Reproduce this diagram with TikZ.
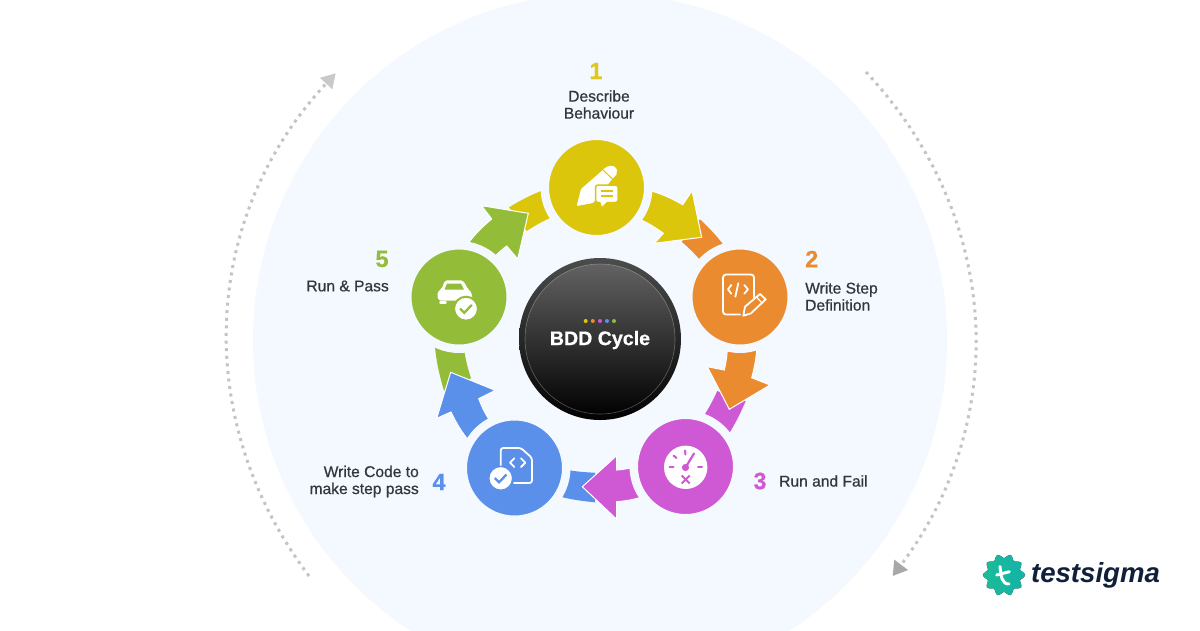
\documentclass[tikz,border=0pt]{standalone}
\usepackage{fontspec}
\setmainfont{Liberation Sans}
\newfontfamily\labelfont[FakeBold=0.6]{Liberation Sans}
\newfontfamily\numfont[FakeBold=0.5]{Liberation Sans Bold}
\usetikzlibrary{arrows.meta}

\definecolor{panelbg}{HTML}{F4F8FF}
\definecolor{stepyellow}{HTML}{DCC60C}
\definecolor{steporange}{HTML}{EA8B30}
\definecolor{steppurple}{HTML}{CF58D4}
\definecolor{stepblue}{HTML}{5A90EA}
\definecolor{stepgreen}{HTML}{93BC38}
\definecolor{labeltext}{HTML}{33363D}
\definecolor{logonavy}{HTML}{10203A}
\definecolor{logoleft}{HTML}{1CBB98}
\definecolor{logoright}{HTML}{12B3A8}
\definecolor{hubrim}{HTML}{4C4C4C}
\definecolor{hubtop}{HTML}{626262}
\definecolor{hubend}{HTML}{020202}

\tikzset{
  stepcircle/.style={circle, draw=panelbg, line width=8.5pt, minimum size=103.5pt, inner sep=0pt, outer sep=0pt},
  stephead/.style={draw=white, line width=1pt, line join=miter},
  steplabel/.style={inner sep=0pt, text=labeltext, font=\labelfont\fontsize{15.6}{17}\selectfont},
  stepnum/.style={inner sep=0pt, font=\numfont\fontsize{23.5}{23.5}\selectfont},
  iconline/.style={draw=white, line width=1.8pt, line cap=round, line join=round},
  cyclearc/.style={line width=3pt, dash pattern=on 3pt off 4.6pt}
}

\begin{document}
\begin{tikzpicture}[x=1pt, y=-1pt]
    \useasboundingbox (0,0) rectangle (1200,630);
    \clip (0,0) rectangle (1200,630);
    \fill[white] (0,0) rectangle (1200,630);
    \fill[panelbg] (600,340) circle (347pt);

    % outer arcs
    \coordinate (rightstart) at (866,72);
    \coordinate (righttip) at (892.7,576);
    \coordinate (leftstart) at (309,576);
    \coordinate (lefttip) at (335.7,73.3);
    \draw[cyclearc, color=black!23, -{Triangle[length=14pt, width=16.5pt, color=black!34]}] (rightstart) to[bend left=40] (righttip);
    \draw[cyclearc, color=black!23, -{Triangle[length=14pt, width=16pt, color=black!21]}] (leftstart) to[bend left=40] (lefttip);

    % collars
    \fill[stepyellow] (509,207.3) to[bend left=6] (552,187) -- (560,214) to[bend right=6] (526.7,231) -- cycle;
    \fill[steporange] (700,219.3) to[bend left=6] (733,258) -- (708,270) to[bend right=6] (681.7,241.7) -- cycle;
    \fill[steppurple] (745.7,401) to[bend left=5] (723,443) -- (697,426) to[bend right=5] (717.3,391) -- cycle;
    \fill[stepblue] (595,502.3) to[bend left=5] (550,494) -- (558,468) to[bend right=5] (595,472.7) -- cycle;
    \fill[stepgreen] (444,390.7) to[bend left=6] (434,336) -- (463,340) to[bend right=6] (471,378.3) -- cycle;

    % arrows
    \filldraw[stepyellow, stephead] (640.5,188) to[bend left=8] (682.7,204.7) -- (692,190.7) -- (701.7,237.3) -- (654.3,243.3) -- (663.3,233.3) to[bend right=8] (631,216) -- cycle;
    \filldraw[steporange, stephead] (757,335) to[bend left=8] (751.7,377.7) -- (770,385) -- (729.3,409.3) -- (707.3,366.7) -- (724.3,370) to[bend right=8] (727,338) -- cycle;
    \filldraw[steppurple, stephead] (650,494) to[bend left=8] (616.7,501.7) -- (616.7,519.3) -- (582.3,486.7) -- (616.7,455.7) -- (616.7,470) to[bend right=8] (640,465) -- cycle;
    \filldraw[stepblue, stephead] (475.5,448.5) to[bend left=8] (451,412) -- (436.7,418.3) -- (450.7,372.3) -- (495.3,390.3) -- (478.7,398.7) to[bend right=8] (495,427.7) -- cycle;
    \filldraw[stepgreen, stephead] (462,252) to[bend left=8] (491.7,219) -- (481.7,205.7) -- (528.3,213.3) -- (517.7,259) -- (506.7,246) to[bend right=8] (488,265) -- cycle;

    % step circles
    \node[stepcircle, fill=stepyellow] (describe) at (596.5,187.5) {};
    \node[stepcircle, fill=steporange] (stepdef) at (740,297) {};
    \node[stepcircle, fill=steppurple] (runfail) at (685.5,466.5) {};
    \node[stepcircle, fill=stepblue] (writecode) at (514.5,468) {};
    \node[stepcircle, fill=stepgreen] (runpass) at (459,297) {};

    % centre disc
    \node[circle, minimum size=162pt, inner sep=0pt, top color=hubrim, bottom color=hubend] (bddhub) at (600,339) {};
    \node[circle, minimum size=150pt, inner sep=0pt, top color=hubtop, bottom color=hubend, draw=white, draw opacity=0.3, line width=0.6pt] (bddinner) at (600,339) {};
    \fill[stepyellow] (585.7,321) circle (2pt);
    \fill[steporange] (592.8,321) circle (2pt);
    \fill[steppurple] (600,321) circle (2pt);
    \fill[stepblue] (607,321) circle (2pt);
    \fill[stepgreen] (614,321) circle (2pt);
    \node[inner sep=0pt, text=white, font=\numfont\fontsize{19.6}{20}\selectfont] (bddtitle) at (600,340) {BDD Cycle};

    % icon 1
    \fill[white, rounded corners=1pt] (576.7,206) -- (581,189) -- (604,169) .. controls (608,165) and (614,165) .. (616.5,169) .. controls (618,173) and (616,176) .. (613,178) -- (593,203) -- cycle;
    \draw[stepyellow, line width=1pt] (603,170) -- (612.5,179);
    \filldraw[white, draw=stepyellow, line width=1.5pt, rounded corners=2.5pt] (595.5,185) rectangle (618,202.5);
    \fill[white] (600,201) -- (602,206.5) -- (607.5,201) -- cycle;
    \draw[stepyellow, line width=1.5pt] (601,191) -- (612.5,191);
    \draw[stepyellow, line width=1.5pt] (601,196) -- (612.5,196);

    % icon 2
    \draw[iconline, rounded corners=3pt] (740,314.5) -- (723,314.5) -- (723,274.5) -- (754,274.5) -- (754,298);
    \draw[iconline] (731.3,285) -- (728,289.3) -- (731.3,293.7);
    \draw[iconline] (738.3,283.3) -- (735.3,296.7);
    \draw[iconline] (744.3,285) -- (748,289.3) -- (744.3,293.7);
    \draw[iconline] (743.3,315.7) -- (745,306.7) -- (760,294) -- (765.7,299.3) -- (751,313.3) -- cycle;
    \draw[iconline, line width=1.2pt] (756.7,297.3) -- (762.3,303.3);

    % icon 3
    \fill[white] (685.7,467.3) circle (21.7pt);
    \draw[steppurple, line width=2.2pt, line cap=round] (685.5,467.5) -- (694,453.5);
    \fill[steppurple] (685.5,467.5) circle (3.6pt);
    \foreach \ax/\ay/\bx/\by in {669.5/467/673.5/467, 673.5/455.5/676.5/458, 685/450.5/685.5/454.5, 698/467/702/467}
        \draw[steppurple, line width=2pt, line cap=round] (\ax,\ay) -- (\bx,\by);
    \draw[steppurple, line width=2pt] (681.7,475.5) -- (689.7,483.5);
    \draw[steppurple, line width=2pt] (689.7,475.5) -- (681.7,483.5);

    % icon 4
    \draw[iconline, rounded corners=2.5pt] (500.7,467) -- (500.7,448) -- (521,448) -- (532,458) -- (532,483) -- (514,483);
    \draw[iconline] (514.3,458.3) -- (510,462.7) -- (514.3,467);
    \draw[iconline] (521,458.3) -- (525.3,462.7) -- (521,467);
    \filldraw[white, draw=stepblue, line width=1.5pt] (500.7,478.3) circle (12pt);
    \draw[stepblue, line width=2.3pt] (494.8,478) -- (499,482.3) -- (506.5,474.5);

    % icon 5
    \fill[white, rounded corners=2pt] (438,300.5) -- (437.3,292) -- (441.5,289) -- (445,280.3) -- (463,280.3) -- (468,289) -- (472,293) -- (472,300.5) -- cycle;
    \fill[stepgreen] (447,283.7) -- (461,283.7) -- (464,289.5) -- (444.5,289.5) -- cycle;
    \fill[white, rounded corners=0.8pt] (439.3,301.2) rectangle (446.7,303.8);
    \filldraw[white, draw=stepgreen, line width=2pt] (466,308.7) circle (12pt);
    \draw[stepgreen, line width=2.3pt] (460,308.5) -- (464.3,312.8) -- (471.8,304.8);

    % labels
    \node[stepnum, text=stepyellow!95!white] (num1) at (596,71) {1};
    \node[steplabel, align=center] (lab1) at (599,104.5) {Describe\\Behaviour};
    \node[stepnum, text=steporange, anchor=west] (num2) at (805,259) {2};
    \node[steplabel, align=left, anchor=west] (lab2) at (805,296.5) {Write Step\\Definition};
    \node[stepnum, text=steppurple] (num3) at (760,481) {3};
    \node[steplabel, anchor=west] (lab3) at (779,481) {Run and Fail};
    \node[stepnum, text=stepblue] (num4) at (439,482) {4};
    \node[steplabel, align=right, anchor=east] (lab4) at (419,481.5) {Write Code to\\make step pass};
    \node[stepnum, text=stepgreen] (num5) at (382,259) {5};
    \node[steplabel, anchor=east] (lab5) at (389,286) {Run \& Pass};

    % logo
    \fill[left color=logoleft, right color=logoright] plot[smooth cycle, domain=0:351, samples=40] ({1004+(19+2.2*cos(10*\x))*cos(\x)}, {575+(19+2.2*cos(10*\x))*sin(\x)});
    \draw[white, line width=3pt, line cap=round] (1000,566.5) .. controls (1001,577) and (1002,584) .. (1009,584);
    \draw[white, line width=3pt, line cap=round] (996.7,575) -- (1009.3,571.7);
    \node[inner sep=0pt, text=logonavy, font=\bfseries\itshape\fontsize{27.6}{28}\selectfont] (logotext) at (1095.5,575.5) {testsigma};
\end{tikzpicture}
\end{document}
